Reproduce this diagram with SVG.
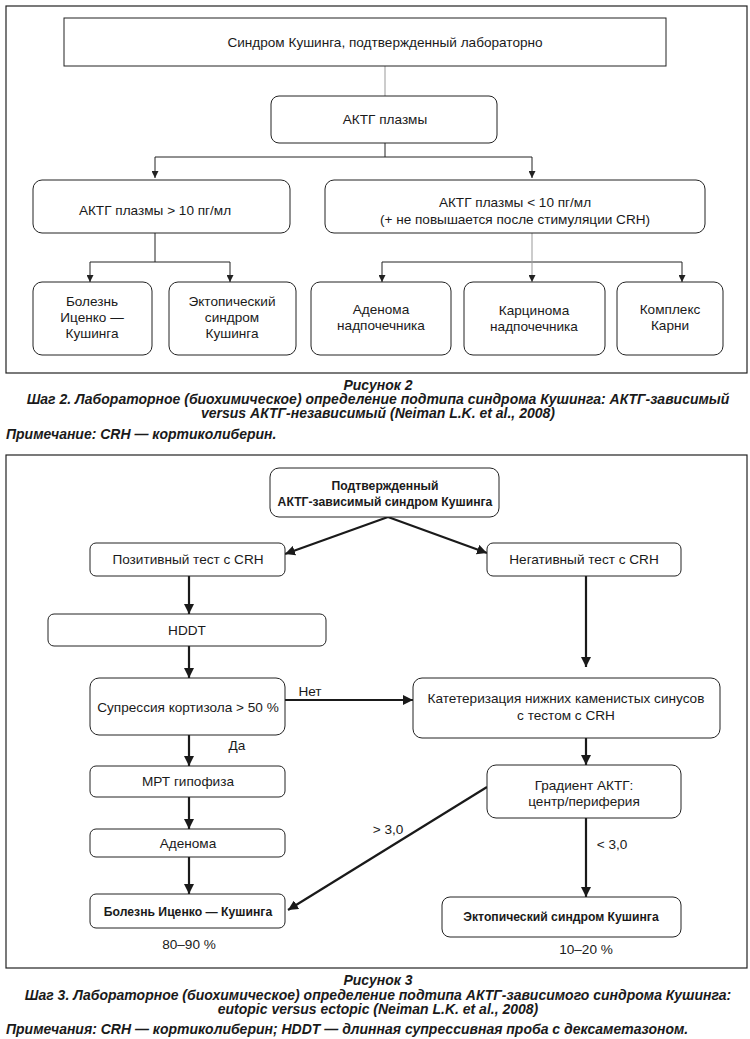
<svg xmlns="http://www.w3.org/2000/svg" width="750" height="1039" viewBox="0 0 750 1039">
<style>
text{font-family:"Liberation Sans",Arial,sans-serif;font-size:13.6px;fill:#1a1a1a;text-anchor:middle}
.b{font-weight:bold;font-size:12.2px}
.cap{font-weight:bold;font-style:italic;font-size:14px}
.l{text-anchor:start}
.frame{fill:none;stroke:#222;stroke-width:1.2}
.box{fill:#fff;stroke:#222;stroke-width:1}
.c2{fill:none;stroke:#222;stroke-width:1}
.g{stroke:#999}
.c3{fill:none;stroke:#1a1a1a;stroke-width:2.2}
</style>
<defs>
<marker id="a2" viewBox="0 0 10 10" refX="10" refY="5" markerWidth="7" markerHeight="7" markerUnits="userSpaceOnUse" orient="auto"><path d="M0,0L10,5L0,10z" fill="#222"/></marker>
<marker id="a3" viewBox="0 0 10 10" refX="10" refY="5" markerWidth="10" markerHeight="10" markerUnits="userSpaceOnUse" orient="auto"><path d="M0,0L10,5L0,10z" fill="#1a1a1a"/></marker>
</defs>
<rect width="750" height="1039" fill="#fff"/>

<!-- Figure 2 -->
<rect class="frame" x="6" y="6" width="741" height="367"/>
<g id="connectors2">
<path class="c2 g" d="M385,66V96"/>
<path class="c2" d="M385,143V157H155V178" marker-end="url(#a2)"/>
<path class="c2" d="M385,157H532V178" marker-end="url(#a2)"/>
<path class="c2" d="M155,233V262H90V282" marker-end="url(#a2)"/>
<path class="c2" d="M155,262H230V282" marker-end="url(#a2)"/>
<path class="c2" d="M532,262H382V282" marker-end="url(#a2)"/>
<path class="c2" d="M532,262H682V282" marker-end="url(#a2)"/>
<path class="c2 g" d="M532,233V282" marker-end="url(#a2)"/>
</g>
<g id="n_top"><rect class="box" x="64" y="18" width="602" height="48"/><text x="385" y="47">Синдром Кушинга, подтвержденный лабораторно</text></g>
<g id="n_actg"><rect class="box" x="271" y="96" width="226" height="47" rx="8"/><text x="385" y="124">АКТГ плазмы</text></g>
<g id="n_gt10"><rect class="box" x="33" y="180" width="257" height="53" rx="9"/><text x="155" y="215">АКТГ плазмы &gt; 10 пг/мл</text></g>
<g id="n_lt10"><rect class="box" x="325" y="180" width="380" height="53" rx="9"/><text x="515" y="207">АКТГ плазмы &lt; 10 пг/мл</text><text x="515" y="224">(+ не повышается после стимуляции CRH)</text></g>
<g id="n_bik"><rect class="box" x="33" y="282" width="119" height="73" rx="9"/><text x="92" y="306">Болезнь</text><text x="92" y="322">Иценко —</text><text x="92" y="338">Кушинга</text></g>
<g id="n_esk"><rect class="box" x="169" y="282" width="127" height="73" rx="9"/><text x="232" y="306">Эктопический</text><text x="232" y="322">синдром</text><text x="232" y="338">Кушинга</text></g>
<g id="n_aden"><rect class="box" x="311" y="282" width="140" height="73" rx="9"/><text x="381" y="314">Аденома</text><text x="381" y="330">надпочечника</text></g>
<g id="n_carc"><rect class="box" x="464" y="282" width="141" height="73" rx="9"/><text x="534" y="315">Карцинома</text><text x="534" y="331">надпочечника</text></g>
<g id="n_carney"><rect class="box" x="617" y="282" width="106" height="73" rx="9"/><text x="670" y="314">Комплекс</text><text x="670" y="330">Карни</text></g>

<text class="cap" x="378" y="390">Рисунок 2</text>
<text class="cap" x="378" y="404">Шаг 2. Лабораторное (биохимическое) определение подтипа синдрома Кушинга: АКТГ-зависимый</text>
<text class="cap" x="378" y="418">versus АКТГ-независимый (Neiman L.K. et al., 2008)</text>
<text class="cap l" x="6" y="439">Примечание: CRH — кортиколиберин.</text>

<!-- Figure 3 -->
<rect class="frame" x="6" y="455" width="741" height="513"/>
<g id="connectors3">
<path class="c3" d="M388,517L285,554" marker-end="url(#a3)"/>
<path class="c3" d="M388,517L487,553" marker-end="url(#a3)"/>
<path class="c3" d="M189,576V614" marker-end="url(#a3)"/>
<path class="c3" d="M189,646V678" marker-end="url(#a3)"/>
<path class="c3" d="M285,700H413" marker-end="url(#a3)"/>
<path class="c3" d="M586,576V667" marker-end="url(#a3)"/>
<path class="c3" d="M586,738V765" marker-end="url(#a3)"/>
<path class="c3" d="M487,787L288,910" marker-end="url(#a3)"/>
<path class="c3" d="M586,818V897" marker-end="url(#a3)"/>
<path class="c3" d="M189,735V766" marker-end="url(#a3)"/>
<path class="c3" d="M189,797V829" marker-end="url(#a3)"/>
<path class="c3" d="M189,857V894" marker-end="url(#a3)"/>
</g>
<text x="310" y="696">Нет</text>
<text x="237" y="750">Да</text>
<text x="388" y="834">&gt; 3,0</text>
<text x="612" y="849">&lt; 3,0</text>
<text x="189" y="949">80–90 %</text>
<text x="586" y="954">10–20 %</text>

<g id="m_top"><rect class="box" x="270" y="468" width="229" height="49" rx="9"/><text class="b" x="385" y="490">Подтвержденный</text><text class="b" x="385" y="506">АКТГ-зависимый синдром Кушинга</text></g>
<g id="m_pos"><rect class="box" x="90" y="543" width="195" height="33" rx="6"/><text x="188" y="564">Позитивный тест с CRH</text></g>
<g id="m_neg"><rect class="box" x="487" y="543" width="194" height="33" rx="6"/><text x="584" y="564">Негативный тест с CRH</text></g>
<g id="m_hddt"><rect class="box" x="48" y="614" width="278" height="32" rx="6"/><text x="187" y="635">HDDT</text></g>
<g id="m_supp"><rect class="box" x="90" y="678" width="195" height="57" rx="9"/><text x="188" y="712">Супрессия кортизола &gt; 50 %</text></g>
<g id="m_cath"><rect class="box" x="413" y="678" width="307" height="60" rx="9"/><text x="566" y="703">Катетеризация нижних каменистых синусов</text><text x="566" y="720">с тестом с CRH</text></g>
<g id="m_mrt"><rect class="box" x="90" y="766" width="195" height="31" rx="6"/><text x="188" y="786">МРТ гипофиза</text></g>
<g id="m_grad"><rect class="box" x="487" y="765" width="194" height="53" rx="9"/><text x="584" y="790">Градиент АКТГ:</text><text x="584" y="806">центр/периферия</text></g>
<g id="m_adenoma"><rect class="box" x="90" y="829" width="195" height="28" rx="6"/><text x="188" y="848">Аденома</text></g>
<g id="m_bik"><rect class="box" x="90" y="894" width="195" height="34" rx="6"/><text class="b" x="188" y="916">Болезнь Иценко — Кушинга</text></g>
<g id="m_ect"><rect class="box" x="442" y="897" width="239" height="40" rx="8"/><text class="b" x="561" y="921">Эктопический синдром Кушинга</text></g>

<text class="cap" x="378" y="985">Рисунок 3</text>
<text class="cap" x="378" y="1000">Шаг 3. Лабораторное (биохимическое) определение подтипа АКТГ-зависимого синдрома Кушинга:</text>
<text class="cap" x="378" y="1014">eutopic versus ectopic (Neiman L.K. et al., 2008)</text>
<text class="cap l" x="6" y="1034">Примечания: CRH — кортиколиберин; HDDT — длинная супрессивная проба с дексаметазоном.</text>
</svg>
